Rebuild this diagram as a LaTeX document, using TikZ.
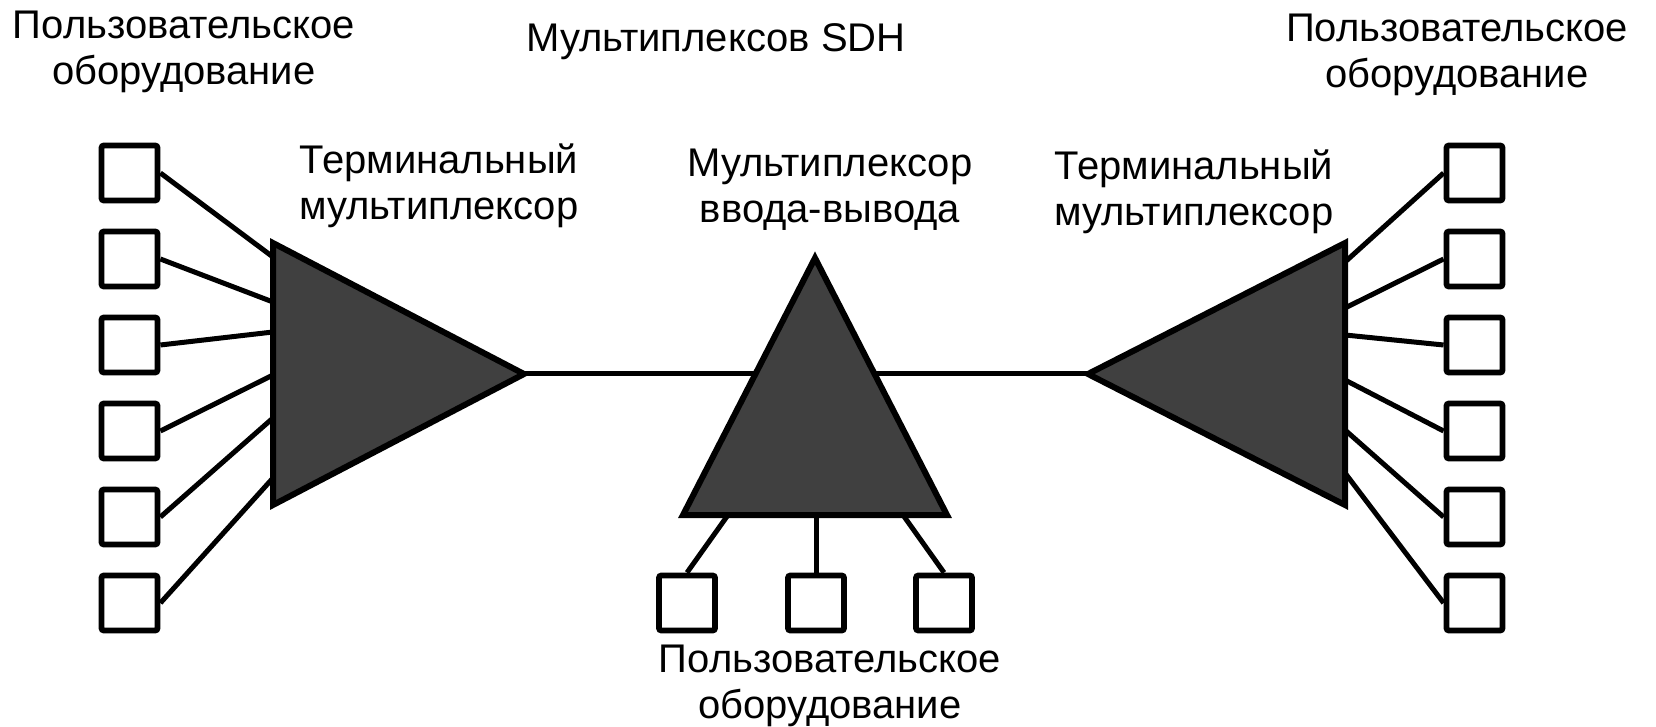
\documentclass[tikz,border=0pt]{standalone}
\usepackage{fontspec}
\setmainfont{Liberation Sans}
\definecolor{muxgray}{HTML}{404040}
% two centred lines whose baseline is that of the first line
\newcommand\twolines[2]{\begin{tabular}[t]{@{}c@{}}#1\\#2\end{tabular}}
\begin{document}
\begin{tikzpicture}[x=0.5pt,y=-0.5pt,
  ubox/.style={draw, line width=2.9pt, fill=white, minimum width=28pt,
    minimum height=27.5pt, inner sep=0pt, rounded corners=1.2pt},
  mux/.style={draw, line width=3pt, fill=muxgray, line join=miter},
  wire/.style={line width=2.5pt},
  lbl/.style={font=\fontsize{20}{23}\selectfont, inner sep=0pt, anchor=base}]
\useasboundingbox (0,0) rectangle (1656,727);

% multiplexer corners
\coordinate (LT) at (273,243); \coordinate (LB) at (273,505); \coordinate (LA) at (524,374);
\coordinate (RT) at (1345,243); \coordinate (RB) at (1345,505); \coordinate (RA) at (1088,374);
\coordinate (CA) at (815,258); \coordinate (CL) at (683,515); \coordinate (CR) at (947,515);

% trunk between the terminal multiplexers
\draw[wire] (LA) -- (RA);

% multiplexers
\draw[mux] (LT) -- (LA) -- (LB) -- cycle;
\draw[mux] (RT) -- (RA) -- (RB) -- cycle;
\draw[mux] (CA) -- (CR) -- (CL) -- cycle;

% user equipment
\foreach \i/\y in {1/173,2/259,3/345,4/431,5/517,6/603}{
  \node[ubox] (l\i) at (129.5,\y) {};
  \node[ubox] (r\i) at (1474.5,\y) {};
}
\node[ubox] (b1) at (687,603) {};
\node[ubox] (b2) at (816,603) {};
\node[ubox] (b3) at (944,603) {};

% tributary ports on the multiplexers
\foreach \i/\y in {1/257,2/302,3/332,4/375,5/418,6/478}
  \coordinate (lp\i) at (273,\y);
\foreach \i/\y in {1/262,2/308,3/335,4/380,5/430,6/473}
  \coordinate (rp\i) at (1345,\y);
\coordinate (bp1) at (728,515); \coordinate (bp2) at (816,515); \coordinate (bp3) at (903,515);

% tributary links
\foreach \i in {1,...,6}{
  \draw[wire] (l\i.east) -- (lp\i);
  \draw[wire] (r\i.west) -- (rp\i);
}
\draw[wire] (bp1) -- (b1.north);
\draw[wire] (bp2) -- (b2.north);
\draw[wire] (bp3) -- (b3.north);

% labels
\node[lbl] (tUL) at (184,39) {\twolines{Пользовательское}{оборудование}};
\node[lbl] (tUR) at (1457,42) {\twolines{Пользовательское}{оборудование}};
\node[lbl] (tTitle) at (716,52) {Мультиплексов SDH};
\node[lbl] (tTL) at (439,174) {\twolines{Терминальный}{мультиплексор}};
\node[lbl] (tADM) at (830,177) {\twolines{Мультиплексор}{ввода-вывода}};
\node[lbl] (tTR) at (1194,180) {\twolines{Терминальный}{мультиплексор}};
\node[lbl] (tUB) at (830,672) {\twolines{Пользовательское}{оборудование}};
\end{tikzpicture}
\end{document}
